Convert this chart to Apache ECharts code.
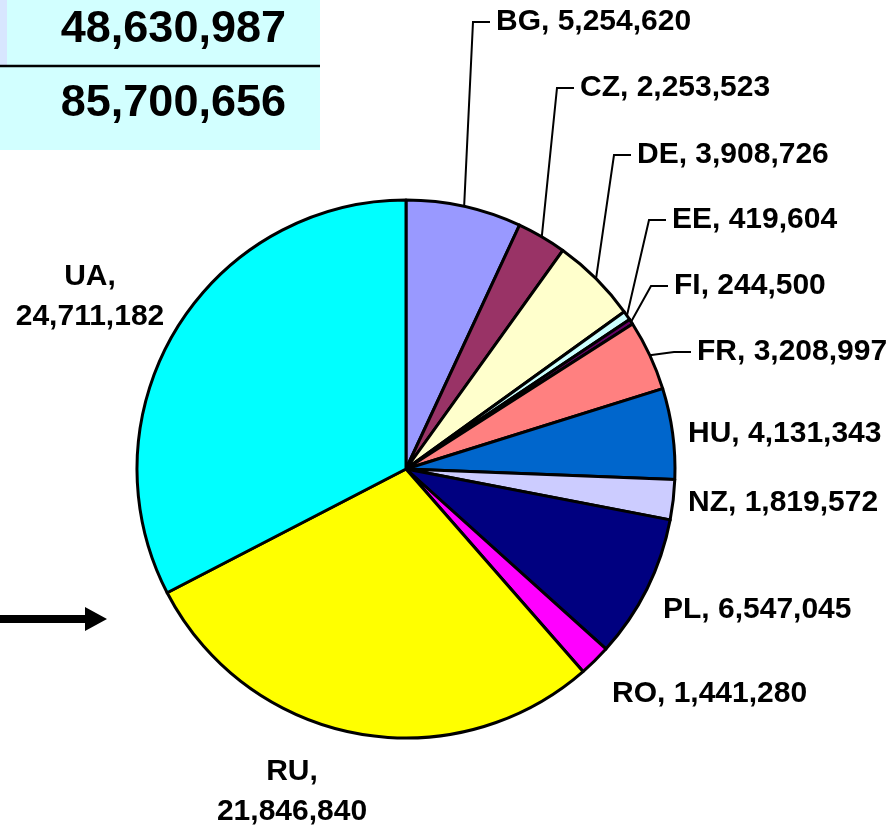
<!DOCTYPE html>
<html>
<head>
<meta charset="utf-8">
<script src="https://cdn.jsdelivr.net/npm/echarts@6/dist/echarts.min.js"></script>
<style>
  html, body { margin: 0; padding: 0; background: #fff; }
  #pie-chart { width: 894px; height: 836px; }
</style>
</head>
<body>
<div id="pie-chart"></div>
<script>
  // data
  const countries = ['BG', 'CZ', 'DE', 'EE', 'FI', 'FR', 'HU', 'NZ', 'PL', 'RO', 'RU', 'UA'];
  const amounts = [5254620, 2253523, 3908726, 419604, 244500, 3208997, 4131343, 1819572, 6547045, 1441280, 21846840, 24711182];
  const sliceColors = ['#9999FF', '#993366', '#FFFFCC', '#CCFFFF', '#660066', '#FF8080', '#0066CC', '#CCCCFF', '#000080', '#FF00FF', '#FFFF00', '#00FFFF'];
  const boxTotals = ['48,630,987', '85,700,656'];

  // labels: left x / center y of text; "lead" = drawn with a leader line, "two" = two lines centred
  const labelSpots = {
    BG: { x: 496, y: 22, lead: true },
    CZ: { x: 580, y: 88, lead: true },
    DE: { x: 637, y: 155, lead: true },
    EE: { x: 672, y: 220, lead: true },
    FI: { x: 674, y: 286, lead: true },
    FR: { x: 697, y: 352, lead: true },
    HU: { x: 688, y: 434 },
    NZ: { x: 688, y: 503 },
    PL: { x: 663, y: 610 },
    RO: { x: 612, y: 694 },
    RU: { x: 292, y: 792, two: true },
    UA: { x: 90, y: 297, two: true }
  };

  const CENTER = [406, 469];
  const RADIUS = 269;
  const FONT = 'Arial, "Liberation Sans", sans-serif';

  const fmt = n => n.toLocaleString('en-US');

  const total = amounts.reduce((a, b) => a + b, 0);
  // fallback edge point at slice middle, in case the library gives none
  function edgePoint(idx) {
    let before = 0;
    for (let i = 0; i < idx; i++) before += amounts[i];
    const mid = (before + amounts[idx] / 2) / total * Math.PI * 2;
    return [CENTER[0] + RADIUS * Math.sin(mid), CENTER[1] - RADIUS * Math.cos(mid)];
  }

  const pieData = countries.map((c, i) => ({
    name: c,
    value: amounts[i],
    itemStyle: { color: sliceColors[i] },
    labelLine: { show: !!labelSpots[c].lead }
  }));

  let myChart = echarts.init(document.getElementById('pie-chart'), null, { renderer: 'canvas' });
  let option = {
    animation: false,
    backgroundColor: '#fff',
    graphic: [
      { type: 'rect', shape: { x: 0, y: 0, width: 320, height: 150 }, style: { fill: '#D2FFFF' } },
      { type: 'rect', shape: { x: 0, y: 0, width: 7, height: 66 }, style: { fill: '#D8E6FF' } },
      { type: 'line', shape: { x1: 0, y1: 66, x2: 320, y2: 66 }, style: { stroke: '#000', lineWidth: 2.5 } },
      {
        type: 'text', x: 286, y: 30,
        style: { text: boxTotals[0], fill: '#000', font: 'bold 45px ' + FONT, align: 'right', verticalAlign: 'middle' }
      },
      {
        type: 'text', x: 286, y: 104,
        style: { text: boxTotals[1], fill: '#000', font: 'bold 45px ' + FONT, align: 'right', verticalAlign: 'middle' }
      },
      // arrow on the left
      {
        type: 'polygon',
        shape: { points: [[0, 615], [85, 615], [85, 607], [107, 619], [85, 631], [85, 623], [0, 623]] },
        style: { fill: '#000' }
      }
    ],
    series: [
      {
        type: 'pie',
        center: CENTER,
        radius: RADIUS,
        startAngle: 90,
        clockwise: true,
        avoidLabelOverlap: false,
        data: pieData,
        itemStyle: { borderColor: '#000', borderWidth: 3 },
        emphasis: { disabled: true },
        label: {
          show: true,
          position: 'outside',
          color: '#000',
          fontFamily: FONT,
          fontWeight: 'bold',
          fontSize: 30,
          lineHeight: 40,
          formatter: p => labelSpots[p.name].two ? p.name + ',\n' + fmt(p.value) : p.name + ', ' + fmt(p.value)
        },
        labelLine: {
          show: true,
          length: 10,
          length2: 10,
          lineStyle: { color: '#000', width: 2 }
        },
        labelLayout: function (params) {
          const name = countries[params.dataIndex];
          const spot = labelSpots[name];
          if (spot.two) {
            return { x: spot.x, y: spot.y, align: 'center', verticalAlign: 'middle' };
          }
          const res = { x: spot.x, y: spot.y, align: 'left', verticalAlign: 'middle' };
          if (spot.lead) {
            const start = params.labelLinePoints && params.labelLinePoints[0]
              ? params.labelLinePoints[0] : edgePoint(params.dataIndex);
            res.labelLinePoints = [start, [spot.x - 23, spot.y], [spot.x - 6, spot.y]];
          }
          return res;
        }
      }
    ]
  };
  option && myChart.setOption(option);
</script>
</body>
</html>
